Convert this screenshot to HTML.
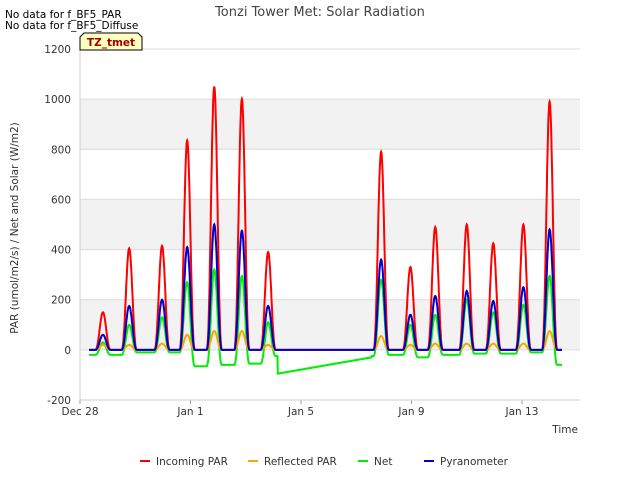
<!DOCTYPE html>
<html><head><meta charset="utf-8"><style>
body{margin:0;background:#fff;font-family:"DejaVu Sans",sans-serif}
</style></head><body>
<svg width="640" height="480" xmlns="http://www.w3.org/2000/svg" font-family="DejaVu Sans, sans-serif">
<rect width="640" height="480" fill="#fff"/>
<g id="bands"></g>
<g id="grid"></g>
<g id="series"></g>
<g id="axes"></g>
<text x="320" y="16" text-anchor="middle" font-size="13" fill="#444">Tonzi Tower Met: Solar Radiation</text>
<text x="5" y="18" font-size="10.5" fill="#000">No data for f_BF5_PAR</text>
<text x="5" y="29" font-size="10.5" fill="#000">No data for f_BF5_Diffuse</text>
<g>
<path d="M80,50 L80,37 L84,33 L138,33 L142,37 L142,50 Z" fill="#ffffc0" stroke="#000" stroke-width="1"/>
<text x="111" y="46" text-anchor="middle" font-size="10.5" font-weight="bold" fill="#a00000">TZ_tmet</text>
</g>
<text x="18" y="228" font-size="10.5" fill="#333" transform="rotate(-90 18 228)" text-anchor="middle">PAR (umol/m2/s) / Net and Solar (W/m2)</text>
<text x="578" y="433" font-size="10.5" fill="#333" text-anchor="end">Time</text>
<g id="legend"></g>
</svg>
<script>
const dayCenters=[0.83,1.78,2.97,3.88,4.86,5.86,6.81,10.9,11.96,12.86,14.0,14.96,16.05,17.0];
const incomingPeaks=[150,405,415,835,1050,1000,390,790,330,490,500,425,500,990];
const reflectedPeaks=[20,20,25,60,75,75,20,55,20,25,25,25,25,75];
const netPeaks=[30,100,130,270,320,295,110,280,100,140,200,150,180,295];
const pyranoPeaks=[60,175,200,410,500,475,175,360,140,215,235,195,250,480];
const netNights=[-20,-10,-10,-65,-60,-55,-25,-20,-30,-20,-15,-15,-10,-60];
const gapNet=[-95,-30];
const yTicks=[-200,0,200,400,600,800,1000,1200];
const xTickDays=[0,4,8,12,16];
const xTickLabels=["Dec 28","Jan 1","Jan 5","Jan 9","Jan 13"];
const X0=80,X1=580,Y0=400,Y1=49,DMIN=0,DMAX=18.1,VMIN=-200,VMAX=1200;
const xs=d=>X0+(d-DMIN)/(DMAX-DMIN)*(X1-X0);
const ys=v=>Y0-(v-VMIN)/(VMAX-VMIN)*(Y0-Y1);
const NS="http://www.w3.org/2000/svg";
function el(t,a,p){const e=document.createElementNS(NS,t);for(const k in a)e.setAttribute(k,a[k]);document.getElementById(p).appendChild(e);return e;}
for(let i=0;i<yTicks.length-1;i++){if(i%2===1){const r=el('rect',{x:X0,y:ys(yTicks[i+1]),width:X1-X0,height:ys(yTicks[i])-ys(yTicks[i+1]),fill:'#f2f2f2'},'bands');

}}
yTicks.forEach(v=>{const l=el('line',{x1:X0,x2:X1,y1:ys(v),y2:ys(v),stroke:'#dcdcdc'},'grid');


const t=el('text',{x:X0-9,y:ys(v)+4,'text-anchor':'end','font-size':10.5,fill:'#333'},'axes');t.textContent=v;

});
xTickDays.forEach((d,i)=>{const t=el('text',{x:xs(d),y:415,'text-anchor':'middle','font-size':10.5,fill:'#333'},'axes');t.textContent=xTickLabels[i];


const k=el('line',{x1:xs(d),x2:xs(d),y1:Y0,y2:Y0+4,stroke:'#999'},'axes');

});
const ax=el('path',{d:`M${X0},${Y1}V${Y0}H${X1}`,fill:'none',stroke:'#ccc'},'axes');


function series(peaks,nights,gap){const pts=[];
for(let t=0.33;t<=17.45;t+=0.01){
 if(t>7.15&&t<10.55){ if(gap){const f=(t-7.15)/3.4;pts.push([t,gap[0]+(gap[1]-gap[0])*f]);} else pts.push([t,0]); continue;}
 let bi=0,bd=99;dayCenters.forEach((c,i)=>{if(Math.abs(t-c)<bd){bd=Math.abs(t-c);bi=i;}});
 const c=dayCenters[bi];let base=nights?nights[t<c&&bi>0?bi-1:bi]:0;
 if(bd<0.28){const s=Math.cos(Math.PI*(t-c)/0.56);pts.push([t,base+(peaks[bi]-base)*Math.pow(s,2.5)]);}
 else pts.push([t,base]);}
return pts.map((p,i)=>(i?'L':'M')+xs(p[0]).toFixed(1)+','+ys(p[1]).toFixed(1)).join('');}
const defs=[['Net','#00ee00',netPeaks,netNights,gapNet,'net-line'],['Reflected PAR','orange',reflectedPeaks,null,null,'reflected-par-line'],['Incoming PAR','red',incomingPeaks,null,null,'incoming-par-line'],['Pyranometer','#0000cc',pyranoPeaks,null,null,'pyranometer-line']];
defs.forEach(d=>{const p=el('path',{d:series(d[2],d[3],d[4]),fill:'none',stroke:d[1],'stroke-width':2},'series');

});
const leg=[['Incoming PAR','red',140],['Reflected PAR','orange',248],['Net','#00ee00',358],['Pyranometer','#0000cc',424]];
leg.forEach(l=>{const g=el('g',{},'legend');


const ln=document.createElementNS(NS,'line');ln.setAttribute('x1',l[2]);ln.setAttribute('x2',l[2]+10);ln.setAttribute('y1',461);ln.setAttribute('y2',461);ln.setAttribute('stroke',l[1]);ln.setAttribute('stroke-width',2);g.appendChild(ln);
const t=document.createElementNS(NS,'text');t.setAttribute('x',l[2]+16);t.setAttribute('y',465);t.setAttribute('font-size',10.5);t.setAttribute('fill','#333');t.textContent=l[0];g.appendChild(t);});
</script>
</body></html>
